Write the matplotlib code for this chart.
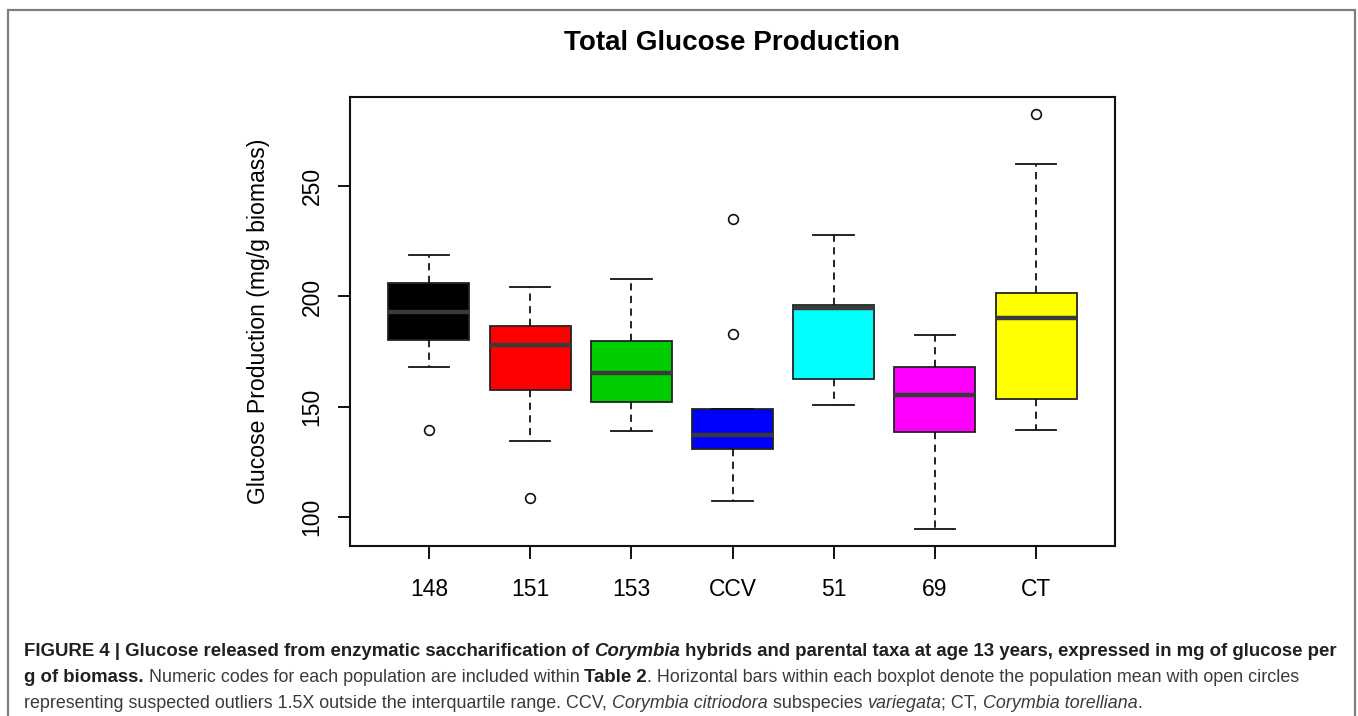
import matplotlib
matplotlib.use("Agg")
import matplotlib.pyplot as plt
from matplotlib.patches import Rectangle

# population codes and boxplot summaries (mg glucose / g biomass)
groups = ["148", "151", "153", "CCV", "51", "69", "CT"]
colors = ["#000000", "#ff0000", "#00cd00", "#0000ff", "#00ffff", "#ff00ff", "#ffff00"]
whis_lo = [168.0, 134.3, 139.0, 107.3, 150.8, 94.7, 139.6]
q1 = [180.4, 157.4, 152.1, 131.0, 162.7, 138.4, 153.4]
med = [192.9, 177.8, 165.3, 137.0, 194.9, 155.3, 190.2]
q3 = [206.2, 186.4, 179.8, 148.8, 196.1, 168.0, 201.7]
whis_hi = [218.8, 204.1, 208.0, 148.8, 227.8, 182.4, 260.2]
outliers = [[139.6], [108.6], [], [235.2, 183.0], [], [], [282.5]]
yticks = [100, 150, 200, 250]

W, H = 1358, 716
fig = plt.figure(figsize=(W / 100, H / 100), dpi=100)
plt.rcParams['font.family'] = ['Liberation Sans', 'DejaVu Sans']

# outer frame of the figure panel
fig.patches.append(Rectangle((8 / W, -0.05), (1355 - 8) / W, 1 - 10 / H + 0.05,
                             transform=fig.transFigure, fill=False,
                             edgecolor="#7f7f7f", linewidth=1.6))

ax = fig.add_axes([350 / W, 1 - 546 / H, (1115 - 350) / W, (546 - 97) / H])

stats = []
for i, g in enumerate(groups):
    stats.append(dict(label=g, whislo=whis_lo[i], q1=q1[i], med=med[i],
                      q3=q3[i], whishi=whis_hi[i], fliers=outliers[i]))

bp = ax.bxp(stats, positions=range(1, len(groups) + 1), widths=0.8,
            capwidths=0.4, patch_artist=True, showfliers=True,
            boxprops=dict(edgecolor="#222222", linewidth=1.3),
            medianprops=dict(color="#3a3a3a", linewidth=3.2, solid_capstyle="butt"),
            whiskerprops=dict(color="#111111", linewidth=1.3, linestyle=(0, (4, 3))),
            capprops=dict(color="#111111", linewidth=1.3),
            flierprops=dict(marker="o", markersize=7, markerfacecolor="none",
                            markeredgecolor="#111111", markeredgewidth=1.2))
for patch, c in zip(bp["boxes"], colors):
    patch.set_facecolor(c)

ax.set_xlim(0.22, 7.78)
ax.set_ylim(86.9, 290.4)
ax.set_yticks(yticks)
ax.set_yticklabels([str(v) for v in yticks], rotation=90, va="center")
for s in ax.spines.values():
    s.set_linewidth(1.5)
    s.set_color("#111111")
ax.tick_params(axis="both", length=9, width=1.4, labelsize=16.5, color="#111111")
ax.tick_params(axis="x", pad=14)
ax.tick_params(axis="y", pad=10)
ax.set_ylabel("Glucose Production (mg/g biomass)", fontsize=16.6, labelpad=22)

fig.text(732.5 / W, 1 - 43 / H, "Total Glucose Production", ha="center", va="center",
         fontsize=20, fontweight="bold")

# caption with mixed bold / italic runs
cap_lines = [
    [("FIGURE 4 | Glucose released from enzymatic saccharification of ", "bold", "normal"),
     ("Corymbia", "bold", "italic"),
     (" hybrids and parental taxa at age 13 years, expressed in mg of glucose per", "bold", "normal")],
    [("g of biomass.", "bold", "normal"),
     (" Numeric codes for each population are included within ", "normal", "normal"),
     ("Table 2", "bold", "normal"),
     (". Horizontal bars within each boxplot denote the population mean with open circles", "normal", "normal")],
    [("representing suspected outliers 1.5X outside the interquartile range. CCV, ", "normal", "normal"),
     ("Corymbia citriodora", "normal", "italic"),
     (" subspecies ", "normal", "normal"),
     ("variegata", "normal", "italic"),
     ("; CT, ", "normal", "normal"),
     ("Corymbia torelliana", "normal", "italic"),
     (".", "normal", "normal")],
]
baselines = [656, 682, 708]
fig.canvas.draw()
renderer = fig.canvas.get_renderer()
for parts, yb in zip(cap_lines, baselines):
    x = 24
    for txt, wt, st in parts:
        col = "#231f20" if wt == "bold" else "#3a3a3a"
        size = 13.4 if wt == "bold" else 12.9
        t = fig.text(x / W, 1 - yb / H, txt, fontsize=size, fontweight=wt,
                     fontstyle=st, va="baseline", ha="left", color=col)
        x += t.get_window_extent(renderer).width

fig.savefig("out.png", dpi=100)
